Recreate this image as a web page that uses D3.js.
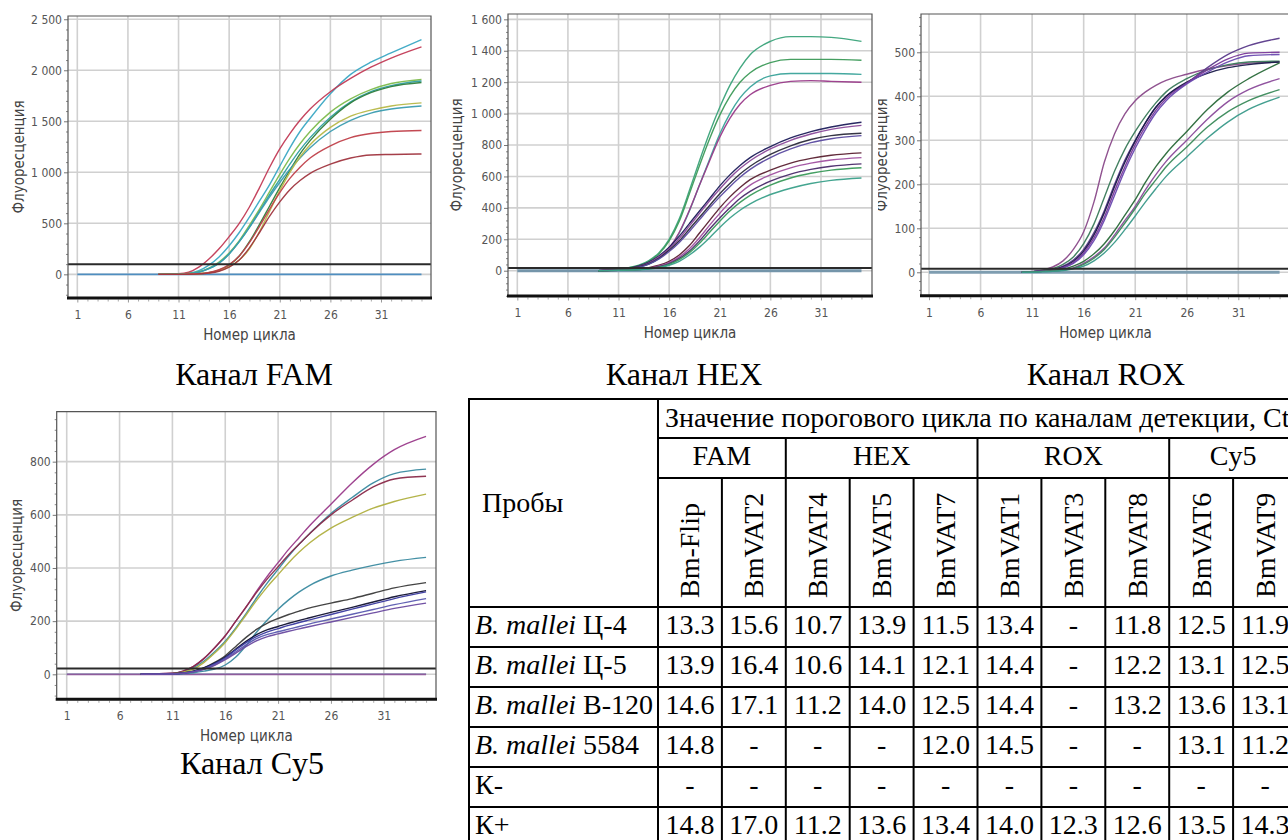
<!DOCTYPE html>
<html><head><meta charset="utf-8">
<script src="https://cdn.jsdelivr.net/npm/d3@7"></script>
<style>body{margin:0;background:#fff;} svg{display:block;}</style>
</head><body>
<svg id="fig" width="1288" height="840"></svg>
<script>
// ================= DATA =================
const cycleTicks = [1, 6, 11, 16, 21, 26, 31];
const negCycles = [1, 35];
const negValues = [0, 0];

// ---- FAM ----
const famYTicks = [0, 500, 1000, 1500, 2000, 2500];
const famThreshold = 100;
const famCycles = [9,11,12,13,14,15,16,17,18,19,20,21,22,23,24,26,28,30,32,35];
const famValues = [
  [0,3,10,35,90,170,280,410,560,720,880,1060,1240,1400,1530,1770,1960,2080,2170,2300],
  [0,5,20,70,150,250,370,500,660,850,1050,1230,1380,1510,1620,1790,1920,2030,2120,2230],
  [0,3,8,25,60,120,210,330,480,640,810,980,1140,1280,1400,1590,1720,1810,1870,1910],
  [0,2,6,20,55,110,200,320,460,620,780,930,1080,1220,1340,1540,1690,1790,1850,1895],
  [0,1,2,5,15,40,90,180,320,490,670,850,1020,1180,1310,1520,1680,1780,1840,1880],
  [0,2,6,20,55,110,200,320,460,610,760,900,1030,1140,1240,1400,1510,1580,1620,1650],
  [0,0,2,5,15,35,75,140,250,420,620,820,1000,1150,1270,1440,1550,1610,1650,1680],
  [0,0,2,6,18,45,95,180,310,470,640,800,940,1050,1140,1260,1340,1380,1400,1410],
  [0,0,1,4,12,30,70,140,260,410,570,710,830,920,990,1080,1140,1170,1175,1180]
];

// ---- HEX ----
const hexYTicks = [0, 200, 400, 600, 800, 1000, 1200, 1400, 1600];
const hexThreshold = 18;
const hexCycles = [9,11,12,13,14,15,16,17,18,19,20,21,22,23,24,26,28,30,32,35];
const hexValues = [
  [0,10,20,35,65,115,200,330,510,700,880,1040,1180,1290,1375,1460,1490,1490,1485,1460],
  [0,10,19,32,60,108,190,315,490,670,840,990,1110,1200,1260,1325,1345,1345,1345,1340],
  [0,9,15,25,42,78,140,240,380,545,710,870,1000,1100,1170,1240,1255,1255,1255,1250],
  [0,9,16,26,45,82,145,245,385,545,700,850,970,1060,1120,1180,1205,1210,1205,1200],
  [0,8,15,30,55,95,150,220,300,380,460,540,610,670,720,790,845,885,915,945],
  [0,7,14,28,50,88,140,205,285,365,445,520,590,650,700,775,830,870,900,925],
  [0,7,13,25,45,80,130,190,265,340,415,490,555,615,665,740,795,835,860,875],
  [0,6,12,22,42,75,122,180,250,325,400,470,535,595,645,720,775,815,840,860],
  [0,4,6,10,20,35,60,100,160,240,320,400,470,530,580,640,685,715,735,750],
  [0,3,5,8,16,30,52,88,140,210,290,365,435,495,545,610,655,685,705,720],
  [0,3,5,8,14,26,45,78,125,190,265,335,400,460,505,570,615,645,665,680],
  [0,3,4,7,12,22,40,70,115,175,245,315,380,435,480,545,590,620,640,655],
  [0,2,4,6,10,20,35,60,100,150,210,275,335,385,425,485,525,555,575,590]
];

// ---- ROX ----
const roxYTicks = [0, 100, 200, 300, 400, 500];
const roxThreshold = 8;
const roxCycles = [10,11,12,13,14,15,16,17,18,19,20,21,22,23,24,26,28,30,32,35];
const roxValues = [
  [0,2,5,12,26,52,92,160,250,315,360,390,410,425,436,450,462,470,475,478],
  [0,1,4,8,18,35,65,110,170,230,280,320,355,385,410,440,460,472,478,480],
  [0,1,3,6,14,28,52,90,140,200,255,300,340,375,400,430,465,495,515,532],
  [0,1,3,5,12,25,48,85,135,195,250,298,340,375,400,432,452,465,472,478],
  [0,1,3,5,11,22,44,78,125,185,240,290,332,368,395,430,460,485,498,500],
  [0,1,2,4,10,20,40,72,118,175,232,282,325,362,390,428,455,478,492,495],
  [0,1,2,4,7,14,25,42,65,95,130,165,205,240,270,320,370,410,440,476],
  [0,1,2,3,5,10,20,35,55,85,118,150,188,222,252,300,348,388,415,440],
  [0,1,2,3,5,9,18,32,52,80,112,145,180,210,240,285,330,365,390,415],
  [0,0,1,2,4,8,14,26,44,68,97,128,160,190,218,262,305,342,370,398]
];

// ---- Cy5 ----
const cy5YTicks = [0, 200, 400, 600, 800];
const cy5Threshold = 22;
const cy5Cycles = [8,11,12,13,14,15,16,17,18,19,20,21,22,23,24,26,28,30,32,35];
const cy5Values = [
  [0,4,12,30,60,100,145,200,255,315,370,420,470,515,560,640,720,790,845,895],
  [0,3,10,25,50,85,125,175,230,290,345,395,445,490,530,605,665,720,755,772],
  [0,4,12,30,60,100,145,200,255,310,360,405,450,490,530,600,655,705,735,745],
  [0,2,8,20,45,80,120,170,225,280,330,375,420,460,495,550,590,625,650,678],
  [0,0,2,6,12,20,35,65,110,160,205,245,280,310,335,370,392,410,425,440],
  [0,2,5,12,25,45,70,105,140,170,193,210,225,238,250,268,285,305,325,345],
  [0,2,5,12,24,42,65,95,125,150,168,180,192,203,213,233,252,272,292,315],
  [0,2,4,10,22,40,62,92,120,143,160,172,184,195,205,225,245,265,285,310],
  [0,1,4,10,20,36,58,85,112,135,150,160,170,180,190,208,226,244,262,285],
  [0,1,4,9,19,34,55,80,105,127,142,152,162,171,180,197,214,231,248,268]
];

// ---- captions ----
const captions = ["Канал FAM", "Канал HEX", "Канал ROX", "Канал Cy5"];
const yTitle = "Флуоресценция";
const xTitle = "Номер цикла";

// ---- table ----
const tableHeader = "Значение порогового цикла по каналам детекции, Ct";
const tableRowHeader = "Пробы";
const channels = ["FAM", "HEX", "ROX", "Cy5"];
const channelSpans = [2, 3, 3, 2];
const probes = ["Bm-Flip","BmVAT2","BmVAT4","BmVAT5","BmVAT7","BmVAT1","BmVAT3","BmVAT8","BmVAT6","BmVAT9"];
const rowSpecies = ["B. mallei","B. mallei","B. mallei","B. mallei","",""];
const rowStrains = ["Ц-4","Ц-5","В-120","5584","К-","К+"];
const ctC4   = [13.3,15.6,10.7,13.9,11.5,13.4,null,11.8,12.5,11.9];
const ctC5   = [13.9,16.4,10.6,14.1,12.1,14.4,null,12.2,13.1,12.5];
const ctB120 = [14.6,17.1,11.2,14.0,12.5,14.4,null,13.2,13.6,13.1];
const ct5584 = [14.8,null,null,null,12.0,14.5,null,null,13.1,11.2];
const ctKneg = [null,null,null,null,null,null,null,null,null,null];
const ctKpos = [14.8,17.0,11.2,13.6,13.4,14.0,12.3,12.6,13.5,14.3];
const ctRows = [ctC4, ctC5, ctB120, ct5584, ctKneg, ctKpos];

// ================= STYLE / LAYOUT =================
const famColors = ["#3aa8c4","#c23a55","#7dbb4c","#2f9fa0","#2e7d3c","#3a9cb0","#b7b848","#c0404a","#a0353f"];
const hexColors = ["#3aa37a","#3c9a58","#3aa39a","#9a3a8a","#1c1c5a","#8a4a9a","#2a2a3a","#5a4aa0","#5a2030","#a050a0","#4a2a6a","#3a9a5a","#3aa08a"];
const roxColors = ["#8a4a8a","#3a7a5a","#5a3a8a","#1a1a4a","#7a3a9a","#6a4ab0","#2a6a3a","#8a4a9a","#3a8a5a","#3a9a8a"];
const cy5Colors = ["#9a3a8a","#3a8aa0","#8a2a4a","#b0b040","#3a8aa0","#3a3a3a","#101030","#3a3aa0","#5a5ab0","#6a4aa0"];

const svg = d3.select("#fig");
svg.append("rect").attr("width",1288).attr("height",840).attr("fill","#fff");

const fmt = d3.formatLocale({decimal:".", thousands:"\u00a0", grouping:[3], currency:["",""]}).format(",");
const sansFont = '"DejaVu Sans Condensed","DejaVu Sans",sans-serif';
const serifFont = '"Liberation Serif","Times New Roman",serif';

let clipN = 0;
function drawChart(cfg, cycles, values, colors, yTicks, minorStep, threshold, negStyle, caption) {
  const g = svg.append("g");
  const x = d3.scaleLinear().domain(cfg.xd).range([cfg.x0, cfg.x1]);
  const y = d3.scaleLinear().domain(cfg.yd).range([cfg.y1, cfg.y0]);

  g.append("rect").attr("x",cfg.x0).attr("y",cfg.y0).attr("width",cfg.x1-cfg.x0).attr("height",cfg.y1-cfg.y0).attr("fill","#fff");

  // grid
  g.append("g").selectAll("line").data(cycleTicks).join("line")
    .attr("x1",d=>x(d)).attr("x2",d=>x(d)).attr("y1",cfg.y0).attr("y2",cfg.y1)
    .attr("stroke","#d0d0d0").attr("stroke-width",1.6);
  g.append("g").selectAll("line").data(yTicks).join("line")
    .attr("x1",cfg.x0).attr("x2",cfg.x1).attr("y1",d=>y(d)).attr("y2",d=>y(d))
    .attr("stroke","#d0d0d0").attr("stroke-width",1.6);

  // minor y ticks
  const minor = d3.range(Math.ceil(cfg.yd[0]/minorStep)*minorStep, cfg.yd[1], minorStep).filter(v=>!yTicks.includes(v));
  const ym = g.append("g").attr("transform",`translate(${cfg.x0},0)`)
    .call(d3.axisLeft(y).tickValues(minor).tickSize(2).tickFormat(""));
  ym.select(".domain").remove();
  ym.selectAll("line").attr("stroke","#888");

  // major y axis
  const ya = g.append("g").attr("transform",`translate(${cfg.x0},0)`)
    .call(d3.axisLeft(y).tickValues(yTicks).tickFormat(fmt).tickSize(4).tickPadding(2));
  ya.select(".domain").remove();
  ya.selectAll("line").attr("stroke","#777");
  ya.selectAll("text").attr("font-family",sansFont).attr("font-size",12).attr("fill","#555");

  // x axis
  const minorX = d3.range(1, 36).filter(v=>!cycleTicks.includes(v));
  const xm = g.append("g").attr("transform",`translate(0,${cfg.y1+1.5})`)
    .call(d3.axisBottom(x).tickValues(minorX).tickSize(2).tickFormat(""));
  xm.select(".domain").remove();
  xm.selectAll("line").attr("stroke","#aaa");
  const xa = g.append("g").attr("transform",`translate(0,${cfg.y1+1.5})`)
    .call(d3.axisBottom(x).tickValues(cycleTicks).tickSize(3).tickPadding(8));
  xa.select(".domain").remove();
  xa.selectAll("line").attr("stroke","#999");
  xa.selectAll("text").attr("font-family",sansFont).attr("font-size",12).attr("fill","#555");

  // clip
  const cid = "clip" + (clipN++);
  g.append("clipPath").attr("id",cid).append("rect")
    .attr("x",cfg.x0).attr("y",cfg.y0).attr("width",cfg.x1-cfg.x0).attr("height",cfg.y1-cfg.y0);
  const pg = g.append("g").attr("clip-path",`url(#${cid})`);

  // negative control (flat)
  const negLine = d3.line().x((d,i)=>x(negCycles[i])).y(d=>y(d));
  negStyle.forEach(s => {
    pg.append("path").attr("d",negLine(negValues)).attr("fill","none")
      .attr("stroke",s.color).attr("stroke-width",s.w);
  });

  // amplification curves
  const line = d3.line().x((d,i)=>x(cycles[i])).y(d=>y(d)).curve(d3.curveMonotoneX);
  pg.append("g").selectAll("path").data(values).join("path")
    .attr("d",d=>line(d)).attr("fill","none")
    .attr("stroke",(d,i)=>colors[i]).attr("stroke-width",1.4).attr("stroke-opacity",0.95);

  // threshold
  pg.append("line").attr("x1",cfg.x0).attr("x2",cfg.x1).attr("y1",y(threshold)).attr("y2",y(threshold))
    .attr("stroke","#2a2a2a").attr("stroke-width",2);

  // frame
  g.append("path").attr("d",`M${cfg.x0},${cfg.y1}V${cfg.y0}H${cfg.x1}V${cfg.y1}`)
    .attr("fill","none").attr("stroke","#555").attr("stroke-width",1.2);
  g.append("line").attr("x1",cfg.x0-1).attr("x2",cfg.x1+1).attr("y1",cfg.y1).attr("y2",cfg.y1)
    .attr("stroke","#111").attr("stroke-width",3);

  // titles
  const yt = g.append("g");
  if (cfg.ylabClip != null) {
    const lid = "lclip" + (clipN++);
    g.append("clipPath").attr("id",lid).append("rect")
      .attr("x",cfg.ylabClip).attr("y",0).attr("width",60).attr("height",840);
    yt.attr("clip-path",`url(#${lid})`);
  }
  yt.append("text").attr("transform",`translate(${cfg.ylabX},${(cfg.y0+cfg.y1)/2}) rotate(-90)`)
    .attr("text-anchor","middle").attr("dominant-baseline","central")
    .attr("font-family",sansFont).attr("font-size",15).attr("fill","#444").text(yTitle);
  g.append("text").attr("x",(cfg.x0+cfg.x1)/2).attr("y",cfg.y1+37)
    .attr("text-anchor","middle").attr("dominant-baseline","central")
    .attr("font-family",sansFont).attr("font-size",15).attr("fill","#444").text(xTitle);
  g.append("text").attr("x",cfg.capX).attr("y",cfg.capY)
    .attr("text-anchor","middle").attr("font-family",serifFont).attr("font-size",32)
    .attr("fill","#000").text(caption);
}

drawChart({x0:68, x1:431, y0:16, y1:298, xd:[0.08,35.94], yd:[-232,2532], ylabX:19, capX:254, capY:385},
  famCycles, famValues, famColors, famYTicks, 100, famThreshold, [{color:"#4f8ec0", w:1.6}], captions[0]);
drawChart({x0:508, x1:872, y0:14, y1:296, xd:[0.08,36.04], yd:[-161,1634], ylabX:457, capX:684, capY:385},
  hexCycles, hexValues, hexColors, hexYTicks, 40, hexThreshold, [{color:"#7495aa", w:3}], captions[1]);
drawChart({x0:921, x1:1290, y0:14, y1:295.7, xd:[0.224,36.01], yd:[-53.2,587], ylabX:882, ylabClip:878, capX:1106, capY:385},
  roxCycles, roxValues, roxColors, roxYTicks, 20, roxThreshold, [{color:"#7e9db0", w:3}], captions[2]);
drawChart({x0:56.7, x1:436, y0:411.7, y1:699.3, xd:[0.052,35.94], yd:[-94,988], ylabX:17, capX:252, capY:774},
  cy5Cycles, cy5Values, cy5Colors, cy5YTicks, 40, cy5Threshold, [{color:"#7ab0c8", w:1.5},{color:"#8e5c9c", w:1.8}], captions[3]);

// ================= TABLE =================
const T = {x0:469, xl:658, x1:1297, y0:399, yH1:438, yH2:478, yH3:607, y1:847};
const tg = svg.append("g");
const colX = d3.scaleBand().domain(probes).range([T.xl, T.x1]);
const rowY = d3.scaleBand().domain(rowStrains).range([T.yH3, T.y1]);
const lineStyle = sel => sel.attr("stroke","#000").attr("stroke-width",2);

[[T.y0,T.x0],[T.yH1,T.xl],[T.yH2,T.xl],[T.yH3,T.x0]].forEach(([yy,xs]) =>
  tg.append("line").attr("x1",xs-1).attr("x2",T.x1).attr("y1",yy).attr("y2",yy).call(lineStyle));
tg.append("g").selectAll("line").data(rowStrains).join("line")
  .attr("x1",T.x0-1).attr("x2",T.x1).attr("y1",d=>rowY(d)+rowY.bandwidth()).attr("y2",d=>rowY(d)+rowY.bandwidth()).call(lineStyle);

tg.append("line").attr("x1",T.x0).attr("x2",T.x0).attr("y1",T.y0-1).attr("y2",T.y1).call(lineStyle);
tg.append("line").attr("x1",T.xl).attr("x2",T.xl).attr("y1",T.y0-1).attr("y2",T.y1).call(lineStyle);
let acc = 0;
const groupStarts = channelSpans.map(s => { const st = acc; acc += s; return st; });
groupStarts.slice(1).forEach(st => {
  const xx = colX(probes[st]);
  tg.append("line").attr("x1",xx).attr("x2",xx).attr("y1",T.yH1).attr("y2",T.y1).call(lineStyle);
});
probes.forEach((p,i) => {
  if (i === 0 || groupStarts.includes(i)) return;
  const xx = colX(p);
  tg.append("line").attr("x1",xx).attr("x2",xx).attr("y1",T.yH2).attr("y2",T.y1).call(lineStyle);
});

const tFont = 28;
tg.append("text").attr("x",T.xl+7).attr("y",T.yH1-11).attr("font-family",serifFont).attr("font-size",tFont).text(tableHeader);
tg.append("text").attr("x",T.x0+13).attr("y",(T.y0+T.yH3)/2+9).attr("font-family",serifFont).attr("font-size",tFont).text(tableRowHeader);
channels.forEach((c,i) => {
  const xs = colX(probes[groupStarts[i]]);
  const xe = colX(probes[groupStarts[i]+channelSpans[i]-1]) + colX.bandwidth();
  tg.append("text").attr("x",(xs+xe)/2).attr("y",T.yH2-13).attr("text-anchor","middle")
    .attr("font-family",serifFont).attr("font-size",tFont).text(c);
});
probes.forEach(p => {
  tg.append("text").attr("transform",`translate(${colX(p)+colX.bandwidth()/2},${T.yH3-9}) rotate(-90)`)
    .attr("dominant-baseline","central").attr("font-family",serifFont).attr("font-size",tFont).text(p);
});

const ctFmt = d3.format(".1f");
rowStrains.forEach((r,ri) => {
  const yb = rowY(r) + 27;
  const t = tg.append("text").attr("x",T.x0+6).attr("y",yb).attr("font-family",serifFont).attr("font-size",tFont);
  if (rowSpecies[ri]) {
    t.append("tspan").attr("font-style","italic").text(rowSpecies[ri]);
    t.append("tspan").text(" " + r);
  } else {
    t.text(r);
  }
  ctRows[ri].forEach((v,ci) => {
    tg.append("text").attr("x",colX(probes[ci])+colX.bandwidth()/2).attr("y",yb)
      .attr("text-anchor","middle").attr("font-family",serifFont).attr("font-size",tFont)
      .text(v == null ? "-" : ctFmt(v));
  });
});
</script>
</body></html>
